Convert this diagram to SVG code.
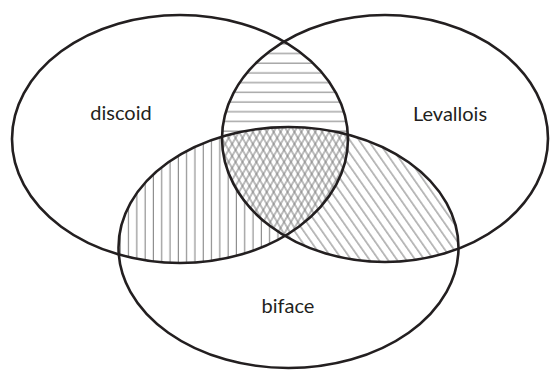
<svg xmlns="http://www.w3.org/2000/svg" width="550" height="371" viewBox="0 0 550 371">
  <style>
    .set { fill: none; stroke: #231f20; stroke-width: 2.6; }
    .lbl { font-family: Lato, "Noto Sans", sans-serif; font-size: 20px; fill: #231f20; text-anchor: middle; }
    .h { stroke: #7a7a7a; stroke-width: 1; }
  </style>
  <defs>
    <pattern id="hH" patternUnits="userSpaceOnUse" width="20" height="9.7">
      <line class="h" x1="0" y1="5" x2="20" y2="5"/>
    </pattern>
    <pattern id="hV" patternUnits="userSpaceOnUse" width="8.3" height="20">
      <line class="h" x1="4" y1="0" x2="4" y2="20"/>
    </pattern>
    <pattern id="hD" patternUnits="userSpaceOnUse" width="7.5" height="20" patternTransform="rotate(-35)">
      <line class="h" x1="3.7" y1="0" x2="3.7" y2="20"/>
    </pattern>
    <pattern id="hX1" patternUnits="userSpaceOnUse" width="6" height="20" patternTransform="rotate(-30)">
      <line class="h" x1="3" y1="0" x2="3" y2="20"/>
    </pattern>
    <pattern id="hX2" patternUnits="userSpaceOnUse" width="6" height="20" patternTransform="rotate(30)">
      <line class="h" x1="3" y1="0" x2="3" y2="20"/>
    </pattern>
    <clipPath id="cL"><ellipse cx="180" cy="139" rx="168" ry="124"/></clipPath>
    <clipPath id="cR"><ellipse cx="385" cy="138.5" rx="163" ry="123.5"/></clipPath>
    <mask id="notB" maskUnits="userSpaceOnUse" x="0" y="0" width="550" height="371">
      <rect width="550" height="371" fill="#fff"/>
      <ellipse cx="288.5" cy="247.5" rx="170" ry="120.5" fill="#000"/>
    </mask>
    <mask id="notR" maskUnits="userSpaceOnUse" x="0" y="0" width="550" height="371">
      <rect width="550" height="371" fill="#fff"/>
      <ellipse cx="385" cy="138.5" rx="163" ry="123.5" fill="#000"/>
    </mask>
    <mask id="notL" maskUnits="userSpaceOnUse" x="0" y="0" width="550" height="371">
      <rect width="550" height="371" fill="#fff"/>
      <ellipse cx="180" cy="139" rx="168" ry="124" fill="#000"/>
    </mask>
  </defs>
  <rect width="550" height="371" fill="#fff"/>
  <g id="hatching">
    <g clip-path="url(#cL)"><g mask="url(#notB)"><ellipse cx="385" cy="138.5" rx="163" ry="123.5" fill="url(#hH)"/></g></g>
    <g clip-path="url(#cL)"><g mask="url(#notR)"><ellipse cx="288.5" cy="247.5" rx="170" ry="120.5" fill="url(#hV)"/></g></g>
    <g clip-path="url(#cR)"><g mask="url(#notL)"><ellipse cx="288.5" cy="247.5" rx="170" ry="120.5" fill="url(#hD)"/></g></g>
    <g clip-path="url(#cL)"><g clip-path="url(#cR)">
      <ellipse cx="288.5" cy="247.5" rx="170" ry="120.5" fill="url(#hX1)"/>
      <ellipse cx="288.5" cy="247.5" rx="170" ry="120.5" fill="url(#hX2)"/>
    </g></g>
  </g>
  <g id="discoid">
    <ellipse class="set" cx="180" cy="139" rx="168" ry="124"/>
    <text class="lbl" x="121" y="120">discoid</text>
  </g>
  <g id="levallois">
    <ellipse class="set" cx="385" cy="138.5" rx="163" ry="123.5"/>
    <text class="lbl" x="450" y="121">Levallois</text>
  </g>
  <g id="biface">
    <ellipse class="set" cx="288.5" cy="247.5" rx="170" ry="120.5"/>
    <text class="lbl" x="288" y="313">biface</text>
  </g>
</svg>
